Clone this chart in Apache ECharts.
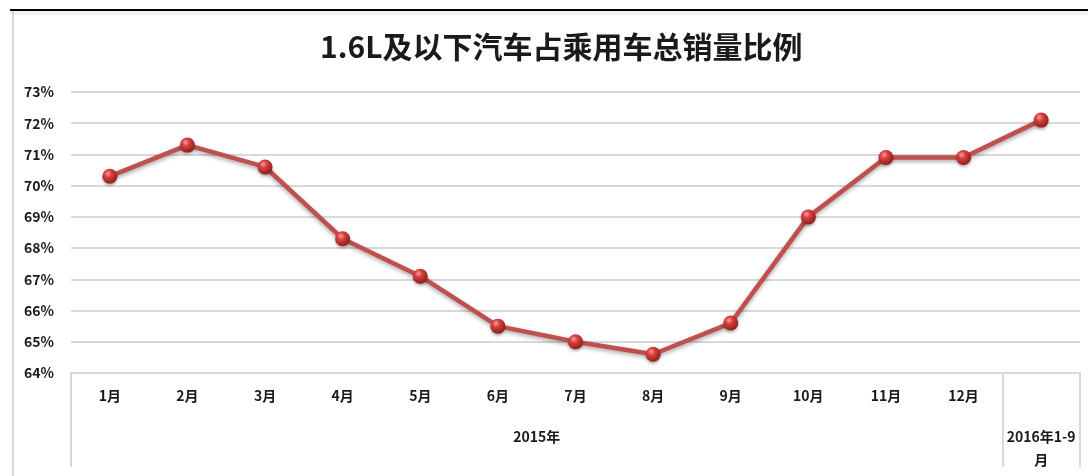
<!DOCTYPE html>
<html>
<head>
<meta charset="utf-8">
<script src="https://cdn.jsdelivr.net/npm/echarts@6/dist/echarts.min.js"></script>
<style>
  html, body { margin: 0; padding: 0; background: #fff; }
  #chart { width: 1088px; height: 476px; }
</style>
</head>
<body>
<div id="chart"></div>
<script>
  // 数据
  var categories = ['1月', '2月', '3月', '4月', '5月', '6月', '7月', '8月', '9月', '10月', '11月', '12月', '2016年1-9月']
  var ratioValues = [70.3, 71.3, 70.6, 68.3, 67.1, 65.5, 65.0, 64.6, 65.6, 69.0, 70.9, 70.9, 72.1]
  var groupLabels = ['2015年', '2016年1-9\n月']
  var groupCenters = [6, 12.5]
  var groupEdges = [0, 12, 13]

  var font = "'Noto Sans CJK SC', 'Liberation Sans', sans-serif"
  var chart = echarts.init(document.getElementById('chart'))
  chart.setOption({
    animation: false,
    backgroundColor: '#fff',
    textStyle: { fontFamily: font },
    title: {
      text: '1.6L及以下汽车占乘用车总销量比例',
      left: 315,
      top: 27,
      textStyle: { fontFamily: font, fontSize: 30, fontWeight: 'bold', color: '#1a1a1a' }
    },
    grid: { left: 71, right: 8, top: 92, bottom: 103 },
    graphic: [
      // 外框：顶部黑线和左侧灰线
      { type: 'rect', shape: { x: 10, y: 9, width: 1078, height: 2 }, style: { fill: '#000' } },
      { type: 'rect', shape: { x: 10, y: 11, width: 1078, height: 4 }, style: { fill: 'rgba(0,0,0,0.06)' } },
      { type: 'rect', shape: { x: 12, y: 11, width: 2, height: 465 }, style: { fill: '#d9d9d9' } }
    ],
    xAxis: [
      {
        type: 'category',
        data: categories,
        boundaryGap: true,
        axisLine: { show: true, lineStyle: { color: '#d9d9d9', width: 2 } },
        axisTick: { show: false },
        axisLabel: {
          interval: 0,
          margin: 16,
          fontSize: 14,
          fontWeight: 'bold',
          color: '#1a1a1a',
          formatter: function (v, i) { return i === categories.length - 1 ? '' : v }
        }
      },
      {
        type: 'value',
        position: 'bottom',
        min: 0,
        max: 13,
        axisLine: { show: false },
        splitLine: { show: false },
        axisTick: {
          show: true,
          customValues: groupEdges,
          length: 94,
          lineStyle: { color: '#d9d9d9', width: 2 }
        },
        axisLabel: {
          customValues: groupCenters,
          margin: 52,
          fontSize: 14,
          fontWeight: 'bold',
          color: '#1a1a1a',
          lineHeight: 23,
          align: 'center',
          formatter: function (v) { return v === groupCenters[0] ? groupLabels[0] : groupLabels[1] }
        }
      }
    ],
    yAxis: {
      type: 'value',
      min: 64,
      max: 73,
      interval: 1,
      axisLine: { show: false },
      axisTick: { show: false },
      splitLine: { lineStyle: { color: '#d9d9d9', width: 2 } },
      axisLabel: {
        margin: 17,
        fontSize: 14,
        fontWeight: 'bold',
        color: '#1a1a1a',
        formatter: '{value}%'
      }
    },
    series: [
      {
        type: 'line',
        xAxisIndex: 0,
        data: ratioValues,
        symbol: 'circle',
        symbolSize: 15,
        lineStyle: {
          color: '#c0504d',
          width: 4.5,
          shadowColor: 'rgba(0,0,0,0.35)',
          shadowBlur: 4,
          shadowOffsetY: 2
        },
        itemStyle: {
          color: new echarts.graphic.RadialGradient(0.38, 0.32, 0.7, [
            { offset: 0, color: '#f4a0a0' },
            { offset: 0.35, color: '#d9403e' },
            { offset: 1, color: '#8c1c1a' }
          ]),
          shadowColor: 'rgba(0,0,0,0.3)',
          shadowBlur: 3,
          shadowOffsetY: 2
        }
      }
    ]
  })
</script>
</body>
</html>
